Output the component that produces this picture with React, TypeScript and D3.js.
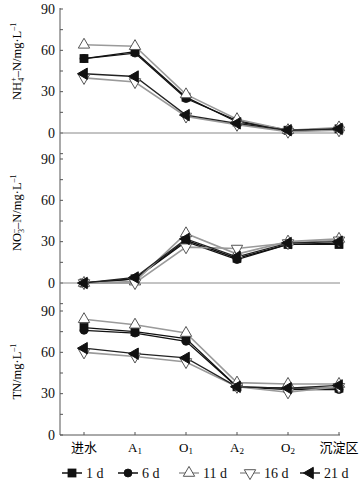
import React from "react";
import * as d3 from "d3";

const categories = ["进水", "A1", "O1", "A2", "O2", "沉淀区"];
const seriesNames = ["1 d", "6 d", "11 d", "16 d", "21 d"];

// NH4+-N, one row per day
const nh4 = [
  [54, 59, 26, 8, 2, 3],
  [54, 58, 25, 9, 2, 3],
  [64, 63, 28, 10, 2, 4],
  [40, 37, 12, 6, 1, 2],
  [43, 41, 13, 7, 2, 3],
];
// NO3--N
const no3 = [
  [0, 3, 31, 18, 28, 28],
  [0, 3, 30, 17, 28, 29],
  [0, 1, 36, 21, 30, 32],
  [0, 0, 26, 25, 29, 31],
  [0, 4, 32, 19, 29, 30],
];
// TN
const tn = [
  [78, 75, 70, 35, 34, 34],
  [76, 74, 68, 35, 33, 33],
  [84, 80, 74, 38, 37, 37],
  [60, 57, 53, 35, 31, 35],
  [63, 59, 56, 35, 34, 36],
];
const yTickLabels = [0, 30, 60, 90];

const serif = "'Liberation Serif', 'DejaVu Serif', serif";
const cjk = "'Noto Sans CJK SC', sans-serif";

const x = d3.scalePoint<string>().domain(categories).range([84, 339]);
const axisX = 60;
const axisRight = 340;

const panels = [
  { data: nh4, y: d3.scaleLinear().domain([0, 90]).range([133, 9]), min: -15, title: "nh4", tc: 52 },
  { data: no3, y: d3.scaleLinear().domain([0, 90]).range([283, 159]), min: -15, title: "no3", tc: 51 },
  { data: tn, y: d3.scaleLinear().domain([0, 90]).range([435, 311]), min: 0, title: "tn", tc: 46 },
];

const filled = [true, true, false, false, true];
const lineColor = ["#111", "#111", "#9a9a9a", "#9a9a9a", "#222"];

function Marker({ i, cx, cy }: { i: number; cx: number; cy: number }) {
  const s = 4;
  const fill = filled[i] ? "#111" : "#fff";
  const stroke = filled[i] ? "#111" : "#555";
  if (i === 0)
    return <rect x={cx - s} y={cy - s} width={2 * s} height={2 * s} fill={fill} stroke={stroke} strokeWidth={0.8} />;
  if (i === 1) return <circle cx={cx} cy={cy} r={s} fill={fill} stroke={stroke} strokeWidth={0.8} />;
  const tri = d3.symbol(d3.symbolTriangle, 56)()!;
  const rot = i === 2 ? 0 : i === 3 ? 180 : -90;
  return (
    <path d={tri} transform={`translate(${cx},${cy}) rotate(${rot})`} fill={fill} stroke={stroke} strokeWidth={1} />
  );
}

function CatLabel({ c, px }: { c: string; px: number }) {
  if (/^[AO]\d$/.test(c)) {
    return (
      <text x={px} y={452} textAnchor="middle" fontFamily={serif} fontSize={13}>
        {c[0]}
        <tspan fontSize={9} dy={2}>{c[1]}</tspan>
      </text>
    );
  }
  return (
    <text x={px} y={452} textAnchor="middle" fontFamily={cjk} fontSize={13}>
      {c}
    </text>
  );
}

function Title({ kind, cy }: { kind: string; cy: number }) {
  const props = { fontFamily: serif, fontSize: 12.5, textAnchor: "middle" as const };
  let content: React.ReactNode;
  if (kind === "nh4")
    content = (
      <>
        NH<tspan fontSize={8} dy={3}>4</tspan>
        <tspan fontSize={8} dx={-4} dy={-8}>+</tspan>
        <tspan dy={5}>–N/mg·L</tspan>
        <tspan fontSize={8} dy={-5}>–1</tspan>
      </>
    );
  else if (kind === "no3")
    content = (
      <>
        NO<tspan fontSize={8} dy={3}>3</tspan>
        <tspan fontSize={8} dx={-4} dy={-8}>–</tspan>
        <tspan dy={5}>–N/mg·L</tspan>
        <tspan fontSize={8} dy={-5}>–1</tspan>
      </>
    );
  else
    content = (
      <>
        TN/mg·L<tspan fontSize={8} dy={-5}>–1</tspan>
      </>
    );
  return (
    <text transform={`translate(21,${cy}) rotate(-90)`} {...props}>
      {content}
    </text>
  );
}

export default function App() {
  return (
    <svg width={363} height={480} style={{ position: "absolute", left: 0, top: 0, background: "#fff" }}>
      {/* shared y axis line */}
      <line x1={axisX} x2={axisX} y1={8} y2={435} stroke="#555" strokeWidth={1} />
      {panels.map((p, pi) => {
        const ticks = d3.range(p.min, 91, 15);
        const line = d3
          .line<number>()
          .x((_, j) => x(categories[j])!)
          .y((v) => p.y(v));
        return (
          <g key={pi}>
            {ticks.map((t) => (
              <line key={t} x1={axisX} x2={axisX + 3} y1={p.y(t)} y2={p.y(t)} stroke="#555" />
            ))}
            {yTickLabels.map((t) => (
              <text key={t} x={55} y={p.y(t) + 4.5} textAnchor="end" fontFamily={serif} fontSize={14} fill="#111">
                {t}
              </text>
            ))}
            {pi < 2 && (
              <line x1={axisX} x2={axisRight} y1={p.y(0)} y2={p.y(0)} stroke="#888" strokeWidth={1} />
            )}
            <Title kind={p.title} cy={p.y(p.tc)} />
            {p.data.map((s, i) => (
              <path key={i} d={line(s)!} fill="none" stroke={lineColor[i]} strokeWidth={filled[i] ? 1.3 : 1.6} />
            ))}
            {p.data.map((s, i) =>
              s.map((v, j) => <Marker key={`${i}-${j}`} i={i} cx={x(categories[j])!} cy={p.y(v)} />)
            )}
          </g>
        );
      })}
      {/* bottom x axis */}
      <line x1={axisX} x2={axisRight} y1={435} y2={435} stroke="#555" />
      {categories.map((c) => (
        <g key={c}>
          <line x1={x(c)!} x2={x(c)!} y1={435} y2={432} stroke="#555" />
          <CatLabel c={c} px={x(c)!} />
        </g>
      ))}
      {/* legend */}
      {seriesNames.map((n, i) => {
        const lx = [72, 128, 189, 250, 310][i];
        return (
          <g key={n}>
            <line x1={lx - 10} x2={lx + 10} y1={473} y2={473} stroke={lineColor[i]} strokeWidth={1.5} />
            <Marker i={i} cx={lx} cy={473} />
            <text x={lx + 14} y={478} fontFamily={serif} fontSize={14} fill="#111">
              {n}
            </text>
          </g>
        );
      })}
    </svg>
  );
}
